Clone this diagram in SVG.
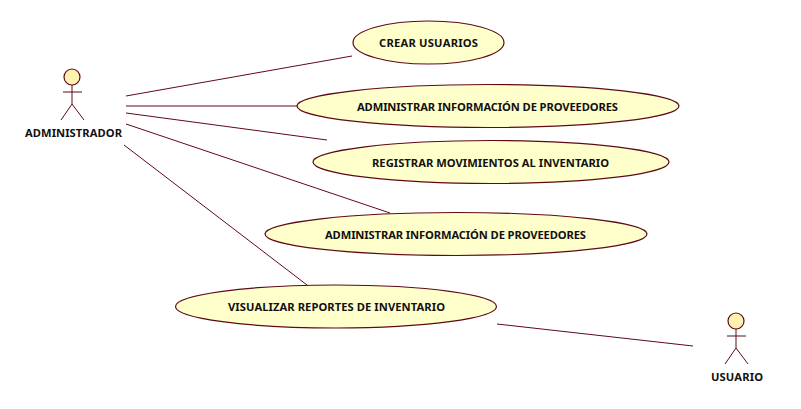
<svg xmlns="http://www.w3.org/2000/svg" width="801" height="409" viewBox="0 0 801 409">
<style>
.u{fill:#ffffcc;stroke:#5f0a16;stroke-width:1.2}
.c{fill:none;stroke:#5f0a16;stroke-width:1}
.a{fill:#fff2b0;stroke:#5f0a16;stroke-width:1.2}
text{font-family:"Noto Sans","DejaVu Sans",sans-serif;font-weight:700;font-size:11.2px;fill:#111;text-anchor:middle}
</style>
<rect width="801" height="409" fill="#fff"/>
<g id="connectors">
<line class="c" x1="126" y1="96" x2="352" y2="56"/>
<line class="c" x1="126" y1="106" x2="297" y2="106"/>
<line class="c" x1="126" y1="113" x2="327" y2="140"/>
<line class="c" x1="126" y1="124" x2="390" y2="213"/>
<line class="c" x1="124" y1="145" x2="307" y2="285"/>
<line class="c" x1="497" y1="324" x2="693" y2="346"/>
</g>
<g id="actor-administrador">
<circle class="a" cx="72" cy="77" r="8"/>
<path class="c" d="M72 85V104M63 92H82M72 104L61 120M72 104L84 120"/>
<text x="73.500" y="137" textLength="97">ADMINISTRADOR</text>
</g>
<g id="actor-usuario">
<circle class="a" cx="736" cy="321" r="8"/>
<path class="c" d="M736 329V348M727 336H746M736 348L725 364M736 348L748 364"/>
<text x="737" y="381" textLength="52">USUARIO</text>
</g>
<g id="uc-crear">
<ellipse class="u" cx="428.500" cy="42.500" rx="75.500" ry="21.500"/>
<text x="428.500" y="47" textLength="99">CREAR USUARIOS</text>
</g>
<g id="uc-admin1">
<ellipse class="u" cx="488" cy="106" rx="191" ry="21.500"/>
<text x="487.500" y="111" textLength="261">ADMINISTRAR INFORMACIÓN DE PROVEEDORES</text>
</g>
<g id="uc-registrar">
<ellipse class="u" cx="491" cy="162" rx="178" ry="21.500"/>
<text x="490.500" y="167" textLength="237">REGISTRAR MOVIMIENTOS AL INVENTARIO</text>
</g>
<g id="uc-admin2">
<ellipse class="u" cx="456" cy="234" rx="191" ry="21.500"/>
<text x="455.500" y="239" textLength="261">ADMINISTRAR INFORMACIÓN DE PROVEEDORES</text>
</g>
<g id="uc-visualizar">
<ellipse class="u" cx="336" cy="306.500" rx="160.500" ry="21.500"/>
<text x="336.500" y="311" textLength="217">VISUALIZAR REPORTES DE INVENTARIO</text>
</g>
</svg>
